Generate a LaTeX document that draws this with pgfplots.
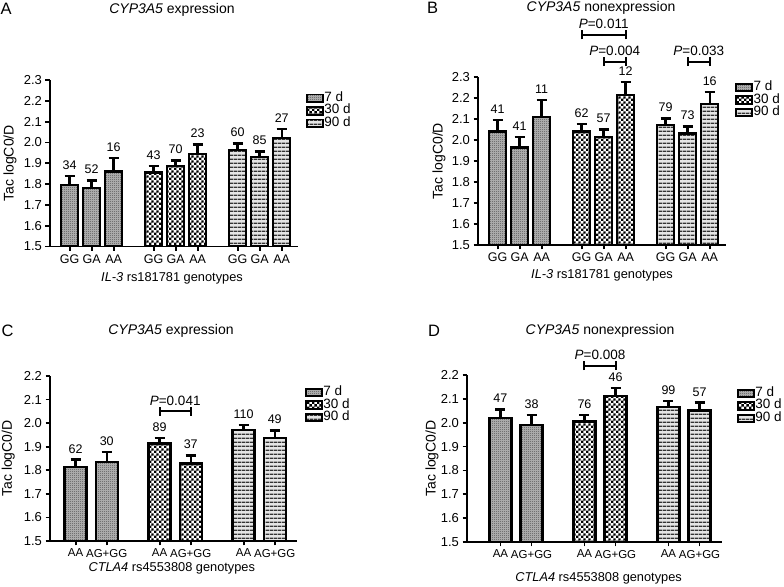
\documentclass[border=0pt]{standalone}
\usepackage{pgfplots}
\pgfplotsset{compat=1.18}
\usepackage{pgfplotstable}
\usepackage{fontspec}
\setmainfont{Liberation Sans}
\usetikzlibrary{patterns}

\pgfdeclarepatternformonly{finecheck}{\pgfqpoint{0pt}{0pt}}{\pgfqpoint{2pt}{2pt}}{\pgfqpoint{2pt}{2pt}}{%
  \pgfpathrectangle{\pgfqpoint{0pt}{0pt}}{\pgfqpoint{1pt}{1pt}}%
  \pgfpathrectangle{\pgfqpoint{1pt}{1pt}}{\pgfqpoint{1pt}{1pt}}%
  \pgfusepath{fill}}
\pgfdeclarepatternformonly{coarsecheck}{\pgfqpoint{0pt}{0pt}}{\pgfqpoint{4.8pt}{4.8pt}}{\pgfqpoint{4.8pt}{4.8pt}}{%
  \pgfpathrectangle{\pgfqpoint{0pt}{0pt}}{\pgfqpoint{2.4pt}{2.4pt}}%
  \pgfpathrectangle{\pgfqpoint{2.4pt}{2.4pt}}{\pgfqpoint{2.4pt}{2.4pt}}%
  \pgfusepath{fill}}
\pgfdeclarepatternformonly{hlines}{\pgfqpoint{0pt}{0pt}}{\pgfqpoint{3.6pt}{3.6pt}}{\pgfqpoint{3.6pt}{3.6pt}}{%
  \pgfpathrectangle{\pgfqpoint{0pt}{0pt}}{\pgfqpoint{3.6pt}{1.4pt}}%
  \pgfusepath{fill}}

% columns: x position, mean, upper error, n
\pgfplotstableread{
x y e n
0.738 1.795 0.045 34
1.000 1.780 0.037 52
1.262 1.860 0.065 16
}\Aseven
\pgfplotstableread{
x y e n
1.738 1.855 0.032 43
2.000 1.888 0.026 70
2.262 1.945 0.045 23
}\Athirty
\pgfplotstableread{
x y e n
2.738 1.965 0.030 60
3.000 1.930 0.026 85
3.262 2.020 0.045 27
}\Aninety
\pgfplotstableread{
x y e n
0.738 2.040 0.055 41
1.000 1.965 0.050 41
1.262 2.110 0.080 11
}\Bseven
\pgfplotstableread{
x y e n
1.738 2.040 0.035 62
2.000 2.015 0.035 57
2.262 2.215 0.060 12
}\Bthirty
\pgfplotstableread{
x y e n
2.738 2.070 0.033 79
3.000 2.030 0.035 73
3.262 2.170 0.058 16
}\Bninety
\pgfplotstableread{
x y e n
0.815 1.815 0.030 62
1.185 1.835 0.043 30
}\Cseven
\pgfplotstableread{
x y e n
1.815 1.913 0.023 89
2.185 1.828 0.035 37
}\Cthirty
\pgfplotstableread{
x y e n
2.815 1.972 0.021 110
3.185 1.937 0.032 49
}\Cninety
\pgfplotstableread{
x y e n
0.815 2.020 0.036 47
1.185 1.990 0.042 38
}\Dseven
\pgfplotstableread{
x y e n
1.815 2.005 0.027 76
2.185 2.113 0.032 46
}\Dthirty
\pgfplotstableread{
x y e n
2.815 2.067 0.025 99
3.185 2.051 0.033 57
}\Dninety

\pgfplotsset{
  panel/.style={scale only axis, axis x line*=bottom, axis y line*=left, ymin=1.5,
    tick align=outside, major tick length=4.5pt,
    tick style={black, line width=1.8pt},
    axis line style={black, line width=1.8pt},
    /pgf/number format/assume math mode=true,
    xticklabel style={font=\fontsize{12.5}{14}\selectfont},
    yticklabel style={font=\fontsize{13}{15}\selectfont, /pgf/number format/fixed, /pgf/number format/fixed zerofill, /pgf/number format/precision=1},
    xlabel style={font=\fontsize{12.8}{14}\selectfont},
    ylabel style={font=\fontsize{14}{16}\selectfont},
    ylabel={Tac logC0/D},
    legend style={draw=none, fill=none, anchor=north west, inner sep=0pt, outer sep=0pt,
      font=\fontsize{13.5}{15}\selectfont, row sep=0.5pt,
      nodes={inner sep=0.5pt, text height=8.5pt, text depth=2.5pt}},
    legend cell align=left,
    legend image code/.code={\draw[##1, line width=1.9pt] (0pt,-3.8pt) rectangle (16pt,3.8pt);},
  },
  bars/.style={ybar, bar shift=0pt, draw=black, line width=2.4pt, forget plot,
    error bars/y dir=plus, error bars/y explicit,
    error bars/error bar style={line width=2.4pt, black},
    error bars/error mark options={rotate=90, mark size=5pt, line width=2.4pt, black}},
  over/.style={scale only axis, axis lines=none, ymin=1.5, clip=false, xtick=\empty, ytick=\empty},
  nlab/.style={only marks, mark=none, nodes near coords, point meta=explicit symbolic,
    nodes near coords style={anchor=south, yshift=3pt, font=\fontsize{12.5}{14}\selectfont, text=black}},
  p7/.style={fill=black!28, postaction={pattern=finecheck, pattern color=black!70}},
  p30/.style={fill=white, postaction={pattern=coarsecheck, pattern color=black}},
  p90/.style={fill=black!10, postaction={pattern=hlines, pattern color=black!80}},
}
\newcommand\pbr[4]{%
  \draw[line width=2pt] (axis cs:#1,#3) -- node[above=5pt, inner sep=0pt, font=\fontsize{13.5}{15}\selectfont] {\textit{P}=#4} (axis cs:#2,#3);
  \draw[line width=2pt] (axis cs:#1,#3) ++(0pt,-4.5pt) -- ++(0pt,9pt);
  \draw[line width=2pt] (axis cs:#2,#3) ++(0pt,-4.5pt) -- ++(0pt,9pt);
}

\begin{document}
\begin{tikzpicture}
\useasboundingbox (0,0) rectangle (784pt,586pt);

% ---------- panel labels and titles ----------
\node[anchor=base west, inner sep=0pt, font=\fontsize{16.5}{18}\selectfont] at (0.5pt,571pt) {A};
\node[anchor=base west, inner sep=0pt, font=\fontsize{16.5}{18}\selectfont] at (427pt,572.5pt) {B};
\node[anchor=base west, inner sep=0pt, font=\fontsize{16.5}{18}\selectfont] at (1.5pt,249.7pt) {C};
\node[anchor=base west, inner sep=0pt, font=\fontsize{16.5}{18}\selectfont] at (428pt,249.7pt) {D};
\node[anchor=base, inner sep=0pt, font=\fontsize{14}{16}\selectfont] at (172pt,572.7pt) {\textit{CYP3A5} expression};
\node[anchor=base, inner sep=0pt, font=\fontsize{14}{16}\selectfont] at (601pt,574pt) {\textit{CYP3A5} nonexpression};
\node[anchor=base, inner sep=0pt, font=\fontsize{14}{16}\selectfont] at (171pt,251.3pt) {\textit{CYP3A5} expression};
\node[anchor=base, inner sep=0pt, font=\fontsize{14}{16}\selectfont] at (600pt,251.3pt) {\textit{CYP3A5} nonexpression};

% ---------- Panel A ----------
\begin{axis}[panel, at={(50pt,339.5pt)}, anchor=south west, width=248pt, height=166.5pt,
  xmin=0.504, xmax=3.456, ymax=2.3, ytick={1.5,1.6,...,2.31}, bar width=17pt,
  xtick={0.738,1,1.262,1.738,2,2.262,2.738,3,3.262},
  xticklabels={GG,GA,AA,GG,GA,AA,GG,GA,AA},
  xlabel={\textit{IL-3} rs181781 genotypes},
  xlabel style={at={(axis description cs:0.492,-0.189)}, anchor=center},
  ylabel style={at={(axis description cs:-0.161,0.5)}, anchor=center},
  legend style={at={(1.032,0.926)}}]
\addplot[bars, p7] table[x=x, y=y, y error=e] \Aseven;
\addplot[bars, p30] table[x=x, y=y, y error=e] \Athirty;
\addplot[bars, p90] table[x=x, y=y, y error=e] \Aninety;
\addlegendimage{p7, draw=black}\addlegendentry{7 d}
\addlegendimage{p30, draw=black}\addlegendentry{30 d}
\addlegendimage{p90, draw=black}\addlegendentry{90 d}
\end{axis}
\begin{axis}[over, at={(50pt,339.5pt)}, anchor=south west, width=248pt, height=166.5pt,
  xmin=0.504, xmax=3.456, ymax=2.3]
\addplot[nlab] table[x=x, y expr=\thisrow{y}+\thisrow{e}, meta=n] \Aseven;
\addplot[nlab] table[x=x, y expr=\thisrow{y}+\thisrow{e}, meta=n] \Athirty;
\addplot[nlab] table[x=x, y expr=\thisrow{y}+\thisrow{e}, meta=n] \Aninety;
\end{axis}

% ---------- Panel B ----------
\begin{axis}[panel, at={(478pt,341pt)}, anchor=south west, width=248pt, height=168pt,
  xmin=0.504, xmax=3.456, ymax=2.3, ytick={1.5,1.6,...,2.31}, bar width=17pt,
  xtick={0.738,1,1.262,1.738,2,2.262,2.738,3,3.262},
  xticklabels={GG,GA,AA,GG,GA,AA,GG,GA,AA},
  xlabel={\textit{IL-3} rs181781 genotypes},
  xlabel style={at={(axis description cs:0.5,-0.179)}, anchor=center},
  ylabel style={at={(axis description cs:-0.157,0.5)}, anchor=center},
  legend style={at={(1.0375,0.973)}}]
\addplot[bars, p7] table[x=x, y=y, y error=e] \Bseven;
\addplot[bars, p30] table[x=x, y=y, y error=e] \Bthirty;
\addplot[bars, p90] table[x=x, y=y, y error=e] \Bninety;
\addlegendimage{p7, draw=black}\addlegendentry{7 d}
\addlegendimage{p30, draw=black}\addlegendentry{30 d}
\addlegendimage{p90, draw=black}\addlegendentry{90 d}
\end{axis}
\begin{axis}[over, at={(478pt,341pt)}, anchor=south west, width=248pt, height=168pt,
  xmin=0.504, xmax=3.456, ymax=2.3]
\addplot[nlab] table[x=x, y expr=\thisrow{y}+\thisrow{e}, meta=n] \Bseven;
\addplot[nlab] table[x=x, y expr=\thisrow{y}+\thisrow{e}, meta=n] \Bthirty;
\addplot[nlab] table[x=x, y expr=\thisrow{y}+\thisrow{e}, meta=n] \Bninety;
\pbr{1.738}{2.262}{2.50}{0.011}
\pbr{2.0}{2.262}{2.373}{0.004}
\pbr{3.0}{3.262}{2.373}{0.033}
\end{axis}

% ---------- Panel C ----------
\begin{axis}[panel, at={(50pt,45pt)}, anchor=south west, width=247pt, height=165pt,
  xmin=0.51, xmax=3.45, ymax=2.2, ytick={1.5,1.6,...,2.21}, bar width=22pt,
  xtick={0.815,1.185,1.815,2.185,2.815,3.185},
  xticklabels={AA,AG+GG,AA,AG+GG,AA,AG+GG},
  xticklabel style={font=\fontsize{11.5}{13}\selectfont},
  xlabel={\textit{CTLA4} rs4553808 genotypes},
  xlabel style={at={(axis description cs:0.493,-0.164)}, anchor=center},
  ylabel style={at={(axis description cs:-0.169,0.5)}, anchor=center},
  legend style={at={(1.032,0.936)}}]
\addplot[bars, p7] table[x=x, y=y, y error=e] \Cseven;
\addplot[bars, p30] table[x=x, y=y, y error=e] \Cthirty;
\addplot[bars, p90] table[x=x, y=y, y error=e] \Cninety;
\addlegendimage{p7, draw=black}\addlegendentry{7 d}
\addlegendimage{p30, draw=black}\addlegendentry{30 d}
\addlegendimage{p90, draw=black}\addlegendentry{90 d}
\end{axis}
\begin{axis}[over, at={(50pt,45pt)}, anchor=south west, width=247pt, height=165pt,
  xmin=0.51, xmax=3.45, ymax=2.2]
\addplot[nlab] table[x=x, y expr=\thisrow{y}+\thisrow{e}, meta=n] \Cseven;
\addplot[nlab] table[x=x, y expr=\thisrow{y}+\thisrow{e}, meta=n] \Cthirty;
\addplot[nlab] table[x=x, y expr=\thisrow{y}+\thisrow{e}, meta=n] \Cninety;
\pbr{1.815}{2.185}{2.050}{0.041}
\end{axis}

% ---------- Panel D ----------
\begin{axis}[panel, at={(467pt,44pt)}, anchor=south west, width=255pt, height=167pt,
  xmin=0.417, xmax=3.452, ymax=2.2, ytick={1.5,1.6,...,2.21}, bar width=22pt,
  xtick={0.815,1.185,1.815,2.185,2.815,3.185},
  xticklabels={AA,AG+GG,AA,AG+GG,AA,AG+GG},
  xticklabel style={font=\fontsize{11.5}{13}\selectfont},
  xlabel={\textit{CTLA4} rs4553808 genotypes},
  xlabel style={at={(axis description cs:0.516,-0.216)}, anchor=center},
  ylabel style={at={(axis description cs:-0.137,0.5)}, anchor=center},
  legend style={at={(1.059,0.926)}}]
\addplot[bars, p7] table[x=x, y=y, y error=e] \Dseven;
\addplot[bars, p30] table[x=x, y=y, y error=e] \Dthirty;
\addplot[bars, p90] table[x=x, y=y, y error=e] \Dninety;
\addlegendimage{p7, draw=black}\addlegendentry{7 d}
\addlegendimage{p30, draw=black}\addlegendentry{30 d}
\addlegendimage{p90, draw=black}\addlegendentry{90 d}
\end{axis}
\begin{axis}[over, at={(467pt,44pt)}, anchor=south west, width=255pt, height=167pt,
  xmin=0.417, xmax=3.452, ymax=2.2]
\addplot[nlab] table[x=x, y expr=\thisrow{y}+\thisrow{e}, meta=n] \Dseven;
\addplot[nlab] table[x=x, y expr=\thisrow{y}+\thisrow{e}, meta=n] \Dthirty;
\addplot[nlab] table[x=x, y expr=\thisrow{y}+\thisrow{e}, meta=n] \Dninety;
\pbr{1.815}{2.185}{2.239}{0.008}
\end{axis}
\end{tikzpicture}
\end{document}
